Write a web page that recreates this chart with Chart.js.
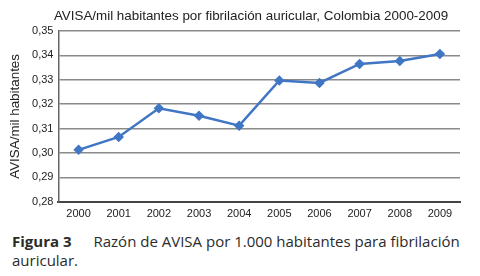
<!DOCTYPE html>
<html>
<head>
<meta charset="utf-8">
<script src="https://cdn.jsdelivr.net/npm/chart.js@4"></script>
<style>
  body { margin: 0; background: #fff; width: 480px; height: 276px; overflow: hidden; }
  #wrap { position: absolute; left: 0; top: 0; width: 480px; height: 227px; }
  #title { position: absolute; left: 0; width: 502px; top: 8px; text-align: center; font-family: "Liberation Sans", Arial, sans-serif; font-size: 13.4px; color: #222; }
  .cap { position: absolute; left: 12px; font-family: "Open Sans", "DejaVu Sans", sans-serif; font-size: 15px; color: #2b2b2b; }
  #cap1 { top: 231px; }
  #cap2 { top: 250px; }
  b { font-weight: 700; margin-right: 22px; }
</style>
</head>
<body>
<div id="wrap"><canvas id="chart"></canvas></div>
<div id="title">AVISA/mil habitantes por fibrilación auricular, Colombia 2000-2009</div>
<div class="cap" id="cap1"><b>Figura 3</b>Razón de AVISA por 1.000 habitantes para fibrilación</div>
<div class="cap" id="cap2">auricular.</div>
<script>
// Data
const years = ["2000", "2001", "2002", "2003", "2004", "2005", "2006", "2007", "2008", "2009"];
const avisaValues = [0.3013, 0.3066, 0.3183, 0.3153, 0.3112, 0.3297, 0.3287, 0.3365, 0.3377, 0.3406];
const yMin = 0.28;
const yMax = 0.35;

const ctx = document.getElementById("chart").getContext("2d");

new Chart(ctx, {
  type: "line",
  data: {
    labels: years,
    datasets: [
      {
        data: avisaValues,
        borderColor: "#4076c4",
        backgroundColor: "#4076c4",
        borderWidth: 2.5,
        pointStyle: "rectRot",
        pointRadius: 3.5,
        tension: 0,
      },
    ],
  },
  options: {
    responsive: true,
    maintainAspectRatio: false,
    animation: false,
    layout: { padding: { left: 7, right: 20, top: 31, bottom: 0 } },
    plugins: {
      legend: { display: false },
      tooltip: { enabled: false },
      title: { display: false },
    },
    scales: {
      x: {
        offset: true,
        grid: { display: false, drawTicks: false },
        border: { color: "#444", width: 2 },
        ticks: {
          color: "#222",
          font: { family: "Liberation Sans", size: 11 },
          padding: 6,
          maxRotation: 0,
        },
      },
      y: {
        min: yMin,
        max: yMax,
        grid: { color: "#8a8a8a", lineWidth: 1.5, drawTicks: false },
        border: { color: "#666", width: 1.5 },
        ticks: {
          stepSize: 0.01,
          color: "#222",
          padding: 5,
          font: { family: "Liberation Sans", size: 11 },
          callback: (v) => v.toFixed(2).replace(".", ","),
        },
        title: {
          display: true,
          text: "AVISA/mil habitantes",
          color: "#222",
          font: { family: "Liberation Sans", size: 13.4 },
          padding: { top: 0, bottom: 4 },
        },
      },
    },
  },
});
</script>
</body>
</html>
